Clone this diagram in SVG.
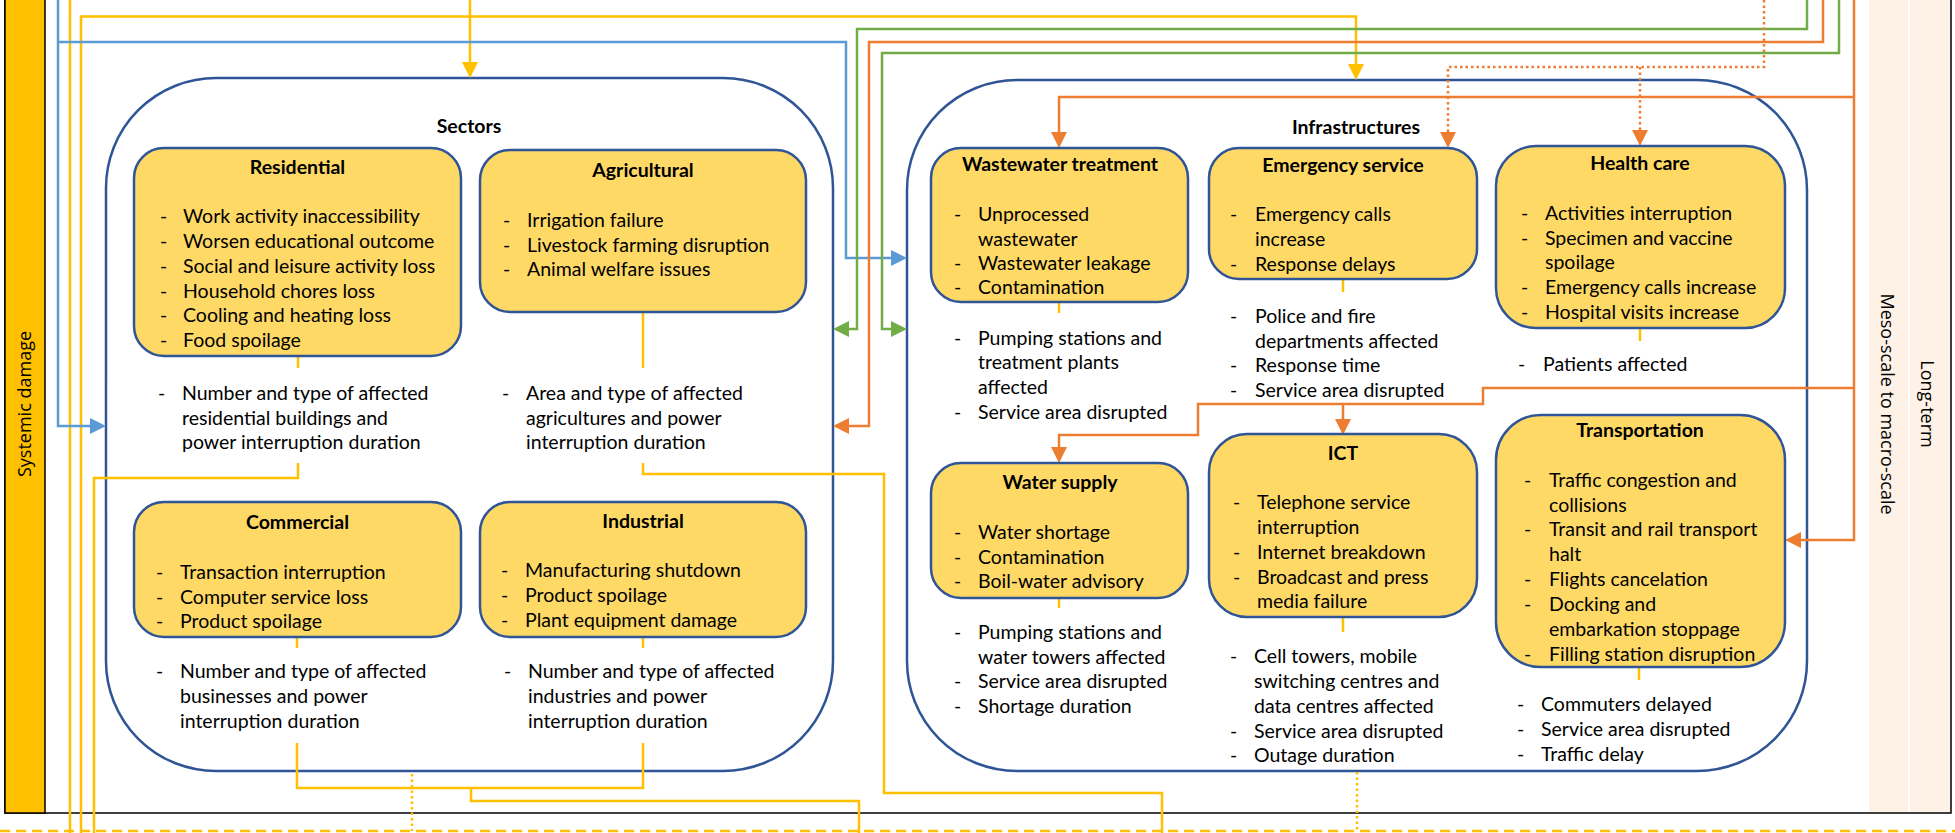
<svg xmlns="http://www.w3.org/2000/svg" width="1955" height="833" viewBox="0 0 1955 833">
<style>
.t{font-family:Lato,'Open Sans','Liberation Sans',sans-serif;font-size:19.5px;fill:#000}
.b{font-weight:bold}
.m{text-anchor:middle}
.side{font-family:'Open Sans','DejaVu Sans',sans-serif;font-size:18px;fill:#000;text-anchor:middle}
.box{fill:#FFD966;stroke:#2F5597;stroke-width:2.5}
.cont{fill:#fff;stroke:#2F5597;stroke-width:2.5}
.ly{fill:none;stroke:#FFC000;stroke-width:2.5}
.lb{fill:none;stroke:#5B9BD5;stroke-width:2.5}
.lg{fill:none;stroke:#70AD47;stroke-width:2.5}
.lo{fill:none;stroke:#ED7D31;stroke-width:2.5}
.dot{stroke-dasharray:2.5 3}
.dash{stroke-dasharray:10 6}
</style>
<defs>
<marker id="aY" viewBox="0 0 16 16" refX="12" refY="8" markerWidth="16" markerHeight="16" markerUnits="userSpaceOnUse" orient="auto"><path d="M0,0 L16,8 L0,16 z" fill="#FFC000"/></marker>
<marker id="aB" viewBox="0 0 16 16" refX="12" refY="8" markerWidth="16" markerHeight="16" markerUnits="userSpaceOnUse" orient="auto"><path d="M0,0 L16,8 L0,16 z" fill="#5B9BD5"/></marker>
<marker id="aG" viewBox="0 0 16 16" refX="12" refY="8" markerWidth="16" markerHeight="16" markerUnits="userSpaceOnUse" orient="auto"><path d="M0,0 L16,8 L0,16 z" fill="#70AD47"/></marker>
<marker id="aO" viewBox="0 0 16 16" refX="12" refY="8" markerWidth="16" markerHeight="16" markerUnits="userSpaceOnUse" orient="auto"><path d="M0,0 L16,8 L0,16 z" fill="#ED7D31"/></marker>
</defs>
<rect x="0" y="0" width="1955" height="833" fill="#fff"/>

<g id="frame">
<rect x="1869" y="0" width="39" height="813" fill="#FEF2E7"/>
<rect x="1910" y="0" width="40" height="813" fill="#FEF2E7"/>
<path d="M5,-2 V813 H1951 V-2" fill="none" stroke="#000" stroke-width="1.5"/>
<rect x="5" y="-5" width="40" height="818" fill="#FFC000" stroke="#000" stroke-width="1.5"/>
<text class="side" transform="translate(31,404) rotate(-90)">Systemic damage</text>
<text class="side" transform="translate(1881,404) rotate(90)">Meso-scale to macro-scale</text>
<text class="side" transform="translate(1921,404) rotate(90)">Long-term</text>
</g>

<g id="sectors">
<rect class="cont" x="106" y="78" width="727" height="693" rx="110"/>
<text class="t b m" x="469" y="133">Sectors</text>
</g>
<g id="infrastructures">
<rect class="cont" x="907" y="80" width="900" height="691" rx="110"/>
<text class="t b m" x="1356" y="134">Infrastructures</text>
</g>

<g id="connectors">
<path class="ly" d="M470,0 V74" marker-end="url(#aY)"/>
<path class="ly" d="M81,833 V16.5 H1356 V76" marker-end="url(#aY)"/>
<path class="ly" d="M70,0 V833"/>
<path class="ly" d="M298,356 V368"/>
<path class="ly" d="M643,312 V368"/>
<path class="ly" d="M298,463 V478 H94 V833"/>
<path class="ly" d="M643,463 V474 H884 V793 H1162 V833"/>
<path class="ly" d="M297,637 V648"/>
<path class="ly" d="M643,637 V648"/>
<path class="ly" d="M297,743 V788 H643 V743"/>
<path class="ly" d="M471,788 V801 H859 V833"/>
<path class="ly" d="M1059,302 V313"/>
<path class="ly" d="M1343,279 V292"/>
<path class="ly" d="M1640,328 V341"/>
<path class="ly" d="M1059,598 V608"/>
<path class="ly" d="M1343,617 V632"/>
<path class="ly" d="M1639,667 V680"/>
<path class="ly dot" d="M412,774 V831"/>
<path class="ly dot" d="M1357,772 V831"/>
<path class="ly dash" d="M0,831 H1955"/>
<path class="lb" d="M58,0 V426 H102" marker-end="url(#aB)"/>
<path class="lb" d="M58,42 H846 V258 H903" marker-end="url(#aB)"/>
<path class="lg" d="M1807,0 V29 H857 V329 H837" marker-end="url(#aG)"/>
<path class="lg" d="M1839,0 V53 H882 V329 H903" marker-end="url(#aG)"/>
<path class="lo" d="M1823,0 V42 H869 V426 H837" marker-end="url(#aO)"/>
<path class="lo" d="M1854,0 V540 H1789" marker-end="url(#aO)"/>
<path class="lo" d="M1854,97 H1059 V144" marker-end="url(#aO)"/>
<path class="lo" d="M1854,388 H1483 V404 H1198 V435 H1059 V459" marker-end="url(#aO)"/>
<path class="lo" d="M1343,404 V431" marker-end="url(#aO)"/>
<path class="lo dot" d="M1764,0 V67 H1448 V144" marker-end="url(#aO)"/>
<path class="lo dot" d="M1640,67 V142" marker-end="url(#aO)"/>
</g>

<g id="residential">
<rect class="box" x="134" y="148" width="327" height="208" rx="30"/>
<text class="t b m" x="297.5" y="174">Residential</text>
<g class="t">
<text x="160" y="223">-</text><text x="183" y="223">Work activity inaccessibility</text>
<text x="160" y="248">-</text><text x="183" y="248">Worsen educational outcome</text>
<text x="160" y="273">-</text><text x="183" y="273">Social and leisure activity loss</text>
<text x="160" y="298">-</text><text x="183" y="298">Household chores loss</text>
<text x="160" y="322">-</text><text x="183" y="322">Cooling and heating loss</text>
<text x="160" y="347">-</text><text x="183" y="347">Food spoilage</text>
<text x="158" y="400">-</text><text x="182" y="400">Number and type of affected</text>
<text x="182" y="425">residential buildings and</text>
<text x="182" y="449">power interruption duration</text>
</g>
</g>

<g id="agricultural">
<rect class="box" x="480" y="150" width="326" height="162" rx="30"/>
<text class="t b m" x="643" y="177">Agricultural</text>
<g class="t">
<text x="503" y="227">-</text><text x="527" y="227">Irrigation failure</text>
<text x="503" y="252">-</text><text x="527" y="252">Livestock farming disruption</text>
<text x="503" y="276">-</text><text x="527" y="276">Animal welfare issues</text>
<text x="502" y="400">-</text><text x="526" y="400">Area and type of affected</text>
<text x="526" y="425">agricultures and power</text>
<text x="526" y="449">interruption duration</text>
</g>
</g>

<g id="commercial">
<rect class="box" x="134" y="502" width="327" height="135" rx="30"/>
<text class="t b m" x="297.5" y="529">Commercial</text>
<g class="t">
<text x="156" y="579">-</text><text x="180" y="579">Transaction interruption</text>
<text x="156" y="604">-</text><text x="180" y="604">Computer service loss</text>
<text x="156" y="628">-</text><text x="180" y="628">Product spoilage</text>
<text x="156" y="678">-</text><text x="180" y="678">Number and type of affected</text>
<text x="180" y="703">businesses and power</text>
<text x="180" y="728">interruption duration</text>
</g>
</g>

<g id="industrial">
<rect class="box" x="480" y="502" width="326" height="135" rx="30"/>
<text class="t b m" x="643" y="528">Industrial</text>
<g class="t">
<text x="501" y="577">-</text><text x="525" y="577">Manufacturing shutdown</text>
<text x="501" y="602">-</text><text x="525" y="602">Product spoilage</text>
<text x="501" y="627">-</text><text x="525" y="627">Plant equipment damage</text>
<text x="504" y="678">-</text><text x="528" y="678">Number and type of affected</text>
<text x="528" y="703">industries and power</text>
<text x="528" y="728">interruption duration</text>
</g>
</g>

<g id="wastewater">
<rect class="box" x="931" y="148" width="257" height="154" rx="30"/>
<text class="t b m" x="1060" y="171">Wastewater treatment</text>
<g class="t">
<text x="954" y="221">-</text><text x="978" y="221">Unprocessed</text>
<text x="978" y="246">wastewater</text>
<text x="954" y="270">-</text><text x="978" y="270">Wastewater leakage</text>
<text x="954" y="294">-</text><text x="978" y="294">Contamination</text>
<text x="954" y="345">-</text><text x="978" y="345">Pumping stations and</text>
<text x="978" y="369">treatment plants</text>
<text x="978" y="394">affected</text>
<text x="954" y="419">-</text><text x="978" y="419">Service area disrupted</text>
</g>
</g>

<g id="emergency">
<rect class="box" x="1209" y="148" width="268" height="131" rx="30"/>
<text class="t b m" x="1343" y="172">Emergency service</text>
<g class="t">
<text x="1230" y="221">-</text><text x="1255" y="221">Emergency calls</text>
<text x="1255" y="246">increase</text>
<text x="1230" y="271">-</text><text x="1255" y="271">Response delays</text>
<text x="1230" y="323">-</text><text x="1255" y="323">Police and fire</text>
<text x="1255" y="348">departments affected</text>
<text x="1230" y="372">-</text><text x="1255" y="372">Response time</text>
<text x="1230" y="397">-</text><text x="1255" y="397">Service area disrupted</text>
</g>
</g>

<g id="healthcare">
<rect class="box" x="1496" y="146" width="289" height="182" rx="40"/>
<text class="t b m" x="1640" y="170">Health care</text>
<g class="t">
<text x="1521" y="220">-</text><text x="1545" y="220">Activities interruption</text>
<text x="1521" y="245">-</text><text x="1545" y="245">Specimen and vaccine</text>
<text x="1545" y="269">spoilage</text>
<text x="1521" y="294">-</text><text x="1545" y="294">Emergency calls increase</text>
<text x="1521" y="319">-</text><text x="1545" y="319">Hospital visits increase</text>
<text x="1518" y="371">-</text><text x="1543" y="371">Patients affected</text>
</g>
</g>

<g id="watersupply">
<rect class="box" x="931" y="463" width="257" height="135" rx="30"/>
<text class="t b m" x="1060" y="489">Water supply</text>
<g class="t">
<text x="954" y="539">-</text><text x="978" y="539">Water shortage</text>
<text x="954" y="564">-</text><text x="978" y="564">Contamination</text>
<text x="954" y="588">-</text><text x="978" y="588">Boil-water advisory</text>
<text x="954" y="639">-</text><text x="978" y="639">Pumping stations and</text>
<text x="978" y="664">water towers affected</text>
<text x="954" y="688">-</text><text x="978" y="688">Service area disrupted</text>
<text x="954" y="713">-</text><text x="978" y="713">Shortage duration</text>
</g>
</g>

<g id="ict">
<rect class="box" x="1209" y="434" width="268" height="183" rx="38"/>
<text class="t b m" x="1343" y="460">ICT</text>
<g class="t">
<text x="1233" y="509">-</text><text x="1257" y="509">Telephone service</text>
<text x="1257" y="534">interruption</text>
<text x="1233" y="559">-</text><text x="1257" y="559">Internet breakdown</text>
<text x="1233" y="584">-</text><text x="1257" y="584">Broadcast and press</text>
<text x="1257" y="608">media failure</text>
<text x="1230" y="663">-</text><text x="1254" y="663">Cell towers, mobile</text>
<text x="1254" y="688">switching centres and</text>
<text x="1254" y="713">data centres affected</text>
<text x="1230" y="738">-</text><text x="1254" y="738">Service area disrupted</text>
<text x="1230" y="762">-</text><text x="1254" y="762">Outage duration</text>
</g>
</g>

<g id="transportation">
<rect class="box" x="1496" y="415" width="289" height="252" rx="45"/>
<text class="t b m" x="1640" y="437">Transportation</text>
<g class="t">
<text x="1524" y="487">-</text><text x="1549" y="487">Traffic congestion and</text>
<text x="1549" y="512">collisions</text>
<text x="1524" y="536">-</text><text x="1549" y="536">Transit and rail transport</text>
<text x="1549" y="561">halt</text>
<text x="1524" y="586">-</text><text x="1549" y="586">Flights cancelation</text>
<text x="1524" y="611">-</text><text x="1549" y="611">Docking and</text>
<text x="1549" y="636">embarkation stoppage</text>
<text x="1524" y="661">-</text><text x="1549" y="661">Filling station disruption</text>
<text x="1517" y="711">-</text><text x="1541" y="711">Commuters delayed</text>
<text x="1517" y="736">-</text><text x="1541" y="736">Service area disrupted</text>
<text x="1517" y="761">-</text><text x="1541" y="761">Traffic delay</text>
</g>
</g>
</svg>
